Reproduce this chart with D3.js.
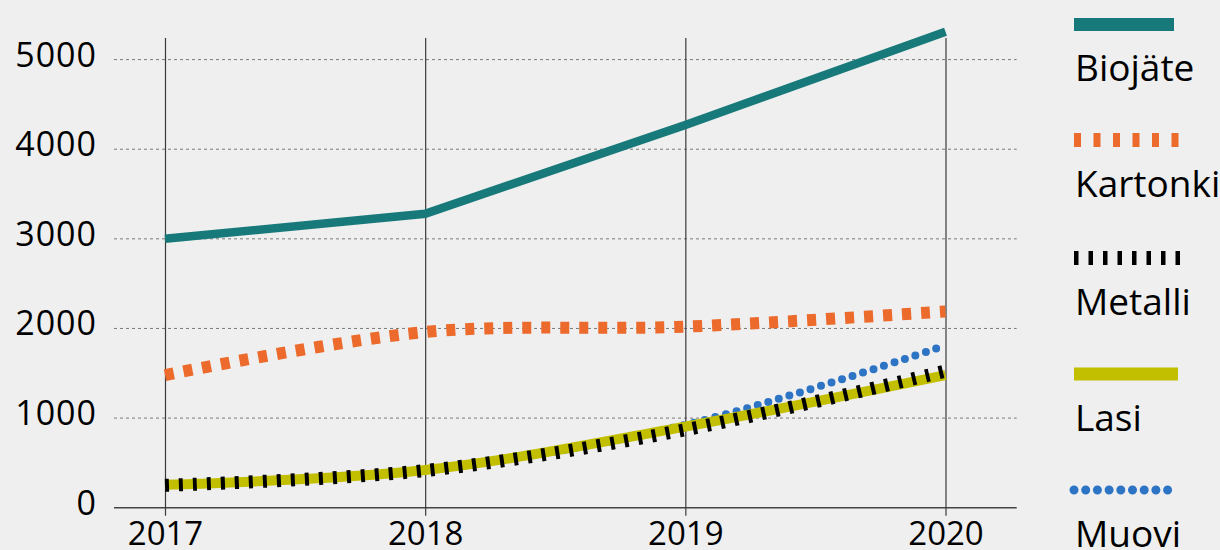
<!DOCTYPE html>
<html>
<head>
<meta charset="utf-8">
<script src="https://cdn.jsdelivr.net/npm/d3@7"></script>
<style>
  body { margin: 0; background: #efefef; }
  svg { display: block; font-family: "Open Sans", sans-serif; }
</style>
</head>
<body>
<svg id="chart" width="1220" height="550"></svg>
<script>
// data
const years = ["2017", "2018", "2019", "2020"];
const biojate = [3000, 3280, 4270, 5310];
const kartonki = [1480, 1960, 2020, 2190];
const metalli = [250, 415, 870, 1525];
const lasi = [255, 420, 905, 1480];
const muovi = [250, 420, 925, 1810];
const yTicks = [0, 1000, 2000, 3000, 4000, 5000];

const names = ["Biojäte", "Kartonki", "Metalli", "Lasi", "Muovi"];
const colors = ["#17797a", "#ec6a2c", "#000000", "#c2bf00", "#2e74c4"];

const svg = d3.select("#chart");
svg.append("rect").attr("width", 1220).attr("height", 550).attr("fill", "#efefef");

const plotLeft = 114, plotRight = 1016.7, plotTop = 38, plotBottom = 507.7;

const xScale = d3.scalePoint().domain(years).range([165, 945.5]);
const yScale = d3.scaleLinear().domain([0, 5000]).range([plotBottom, 59.6]);

// horizontal dashed grid
svg.append("g")
  .selectAll("line")
  .data(yTicks.slice(1))
  .enter()
  .append("line")
  .attr("x1", plotLeft).attr("x2", plotRight)
  .attr("y1", d => yScale(d)).attr("y2", d => yScale(d))
  .attr("stroke", "#7a7a7a")
  .attr("stroke-width", 1)
  .attr("stroke-dasharray", "3,3");

// y axis labels
const yAxis = svg.append("g")
  .attr("transform", `translate(${plotLeft},0)`)
  .call(d3.axisLeft(yScale).tickValues(yTicks).tickFormat(d3.format("d")).tickSize(0).tickPadding(17));
yAxis.select(".domain").remove();
yAxis.selectAll("text")
  .attr("dy", null)
  .attr("y", 6.5)
  .attr("fill", "#000")
  .style("font-size", "34px")
  .style("letter-spacing", "1px")
  .style("font-family", "'Open Sans', sans-serif");

// x axis line
svg.append("line")
  .attr("x1", plotLeft).attr("x2", plotRight)
  .attr("y1", plotBottom).attr("y2", plotBottom)
  .attr("stroke", "#444").attr("stroke-width", 1.4);

// x axis with vertical lines
const xAxis = svg.append("g")
  .attr("transform", `translate(0,${plotBottom})`)
  .call(d3.axisBottom(xScale).tickSize(8).tickPadding(0));
xAxis.select(".domain").remove();
xAxis.selectAll(".tick line")
  .attr("y1", 8)
  .attr("y2", -(plotBottom - plotTop))
  .attr("stroke", "#3a3a3a")
  .attr("stroke-width", 1.2);
xAxis.selectAll("text")
  .attr("dy", null)
  .attr("y", 37)
  .attr("fill", "#000")
  .style("font-size", "33px")
  .style("font-family", "'Open Sans', sans-serif");

// series
const smooth = d3.line()
  .x((d, i) => xScale(years[i]))
  .y(d => yScale(d))
  .curve(d3.curveCardinal.tension(0));
const straight = d3.line()
  .x((d, i) => xScale(years[i]))
  .y(d => yScale(d));

const lines = svg.append("g").attr("fill", "none");

lines.append("path").attr("d", smooth(muovi))
  .attr("stroke", colors[4]).attr("stroke-width", 8)
  .attr("stroke-linecap", "round").attr("stroke-dasharray", "0,11")
  .attr("stroke-dashoffset", -6);

lines.append("path").attr("d", smooth(lasi))
  .attr("stroke", colors[3]).attr("stroke-width", 10);

lines.append("path").attr("d", smooth(metalli))
  .attr("stroke", colors[2]).attr("stroke-width", 13)
  .attr("stroke-dasharray", "4,10");

lines.append("path").attr("d", smooth(kartonki))
  .attr("stroke", colors[1]).attr("stroke-width", 12)
  .attr("stroke-dasharray", "9,10");

lines.append("path").attr("d", straight(biojate))
  .attr("stroke", colors[0]).attr("stroke-width", 8.5);

// legend
const legendY = [24.5, 140, 258, 374, 490];
const legendStyle = [
  { w: 13, dash: null, cap: "butt", x2: 1174 },
  { w: 14, dash: "7,12.5", cap: "butt", x2: 1179 },
  { w: 14, dash: "4.5,10", cap: "butt", x2: 1180 },
  { w: 13, dash: null, cap: "butt", x2: 1178 },
  { w: 9, dash: "0,11.7", cap: "round", x2: 1169 }
];

const legend = svg.append("g");
names.forEach((name, i) => {
  const s = legendStyle[i];
  legend.append("line")
    .attr("x1", 1074).attr("x2", s.x2)
    .attr("y1", legendY[i]).attr("y2", legendY[i])
    .attr("stroke", colors[i])
    .attr("stroke-width", s.w)
    .attr("stroke-linecap", s.cap)
    .attr("stroke-dasharray", s.dash);
  legend.append("text")
    .attr("x", 1075)
    .attr("y", legendY[i] + 56.5)
    .attr("fill", "#000")
    .style("font-size", "37px")
    .text(name);
});
</script>
</body>
</html>
